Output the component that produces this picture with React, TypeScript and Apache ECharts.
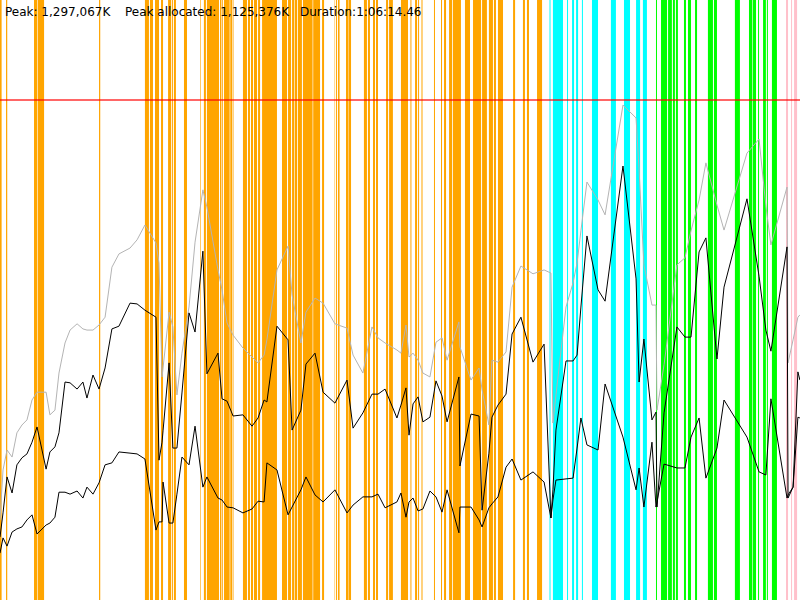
import React, { useEffect, useRef } from "react";
import * as echarts from "echarts";

// Time axis in seconds, memory axis in MB
const DURATION_S = 3974.46;
const Y_MAX_MB = 1536;
const MAX_HEAP_MB = 1280;

const HEADER_TEXTS = ["Peak: 1,297,067K", "Peak allocated: 1,125,376K", "Duration:1:06:14.46"];

const TIME_S = [
  0, 15, 35, 60, 84, 109, 134, 159, 184, 229,
  248, 273, 293, 323, 348, 383, 412, 432, 462, 492,
  522, 556, 591, 646, 681, 720, 775, 790, 805, 810,
  840, 859, 879, 904, 939, 969, 1008, 1028, 1083, 1103,
  1128, 1158, 1207, 1252, 1282, 1312, 1326, 1376, 1431, 1451,
  1495, 1520, 1565, 1605, 1664, 1724, 1754, 1803, 1848, 1878,
  1913, 1972, 1992, 2017, 2032, 2052, 2077, 2101, 2136, 2166,
  2196, 2221, 2280, 2285, 2340, 2380, 2395, 2429, 2444, 2474,
  2514, 2544, 2588, 2648, 2703, 2737, 2747, 2762, 2812, 2847,
  2867, 2886, 2916, 2971, 3006, 3095, 3160, 3175, 3199, 3239,
  3259, 3264, 3299, 3363, 3403, 3433, 3473, 3507, 3562, 3597,
  3711, 3771, 3805, 3830, 3910, 3915, 3940, 3964, 3974,
];

const HEAP_SIZE_MB = [
  205, 333, 384, 366, 428, 448, 461, 512, 532, 532,
  474, 486, 581, 658, 691, 707, 694, 691, 691, 704,
  724, 852, 886, 901, 922, 960, 914, 863, 571, 594,
  737, 699, 525, 632, 750, 916, 1050, 1006, 845, 794,
  709, 678, 645, 622, 607, 627, 666, 845, 906, 781,
  658, 737, 773, 760, 707, 696, 627, 581, 699, 671,
  658, 640, 632, 704, 622, 632, 614, 581, 571, 660,
  671, 614, 712, 648, 563, 594, 538, 448, 614, 609,
  635, 801, 855, 835, 845, 837, 453, 525, 750, 812,
  863, 945, 1070, 1024, 986, 1267, 1234, 1101, 858, 755,
  755, 486, 602, 858, 876, 945, 1024, 1119, 1011, 947,
  1144, 1180, 1009, 909, 1057, 607, 666, 724, 730,
];

const USED_BEFORE_GC_MB = [
  161, 223, 315, 274, 346, 364, 374, 404, 443, 335,
  379, 392, 428, 558, 556, 540, 558, 517, 576, 540,
  594, 694, 701, 760, 758, 742, 724, 358, 404, 433,
  607, 389, 389, 530, 735, 686, 893, 579, 632, 515,
  509, 471, 474, 445, 466, 512, 507, 701, 666, 435,
  486, 604, 632, 532, 504, 563, 440, 479, 527, 527,
  540, 466, 499, 543, 422, 502, 520, 456, 468, 561,
  522, 456, 571, 343, 476, 471, 230, 376, 468, 499,
  527, 681, 724, 609, 655, 210, 282, 435, 612, 612,
  627, 750, 932, 794, 765, 1111, 822, 558, 668, 461,
  481, 238, 479, 699, 673, 673, 891, 927, 617, 801,
  1027, 829, 691, 637, 904, 261, 289, 584, 563,
];

const USED_AFTER_GC_MB = [
  120, 159, 138, 174, 182, 187, 205, 218, 169, 192,
  197, 212, 276, 276, 271, 279, 261, 289, 271, 300,
  346, 351, 379, 376, 374, 361, 179, 200, 200, 302,
  197, 197, 271, 366, 346, 445, 289, 315, 261, 256,
  238, 236, 223, 233, 253, 251, 351, 333, 218, 238,
  282, 315, 269, 251, 282, 223, 243, 264, 264, 271,
  236, 251, 274, 212, 251, 261, 228, 233, 279, 264,
  225, 282, 172, 238, 238, 205, 187, 236, 246, 264,
  340, 361, 307, 328, 302, 210, 256, 307, 310, 312,
  389, 466, 397, 384, 553, 417, 282, 338, 238, 404,
  238, 251, 348, 338, 338, 417, 466, 312, 389, 512,
  417, 328, 320, 515, 261, 269, 289, 468, 466,
];

// GC event intervals [start s, end s]
const ORANGE_EVENTS = [
  [0, 8], [30, 36], [169, 184], [187, 219], [492, 498], [720, 740], [745, 760],
  [770, 790], [800, 810], [835, 850], [854, 859], [864, 874], [914, 929], [994, 997],
  [1013, 1023], [1028, 1088], [1093, 1100], [1104, 1108], [1113, 1141], [1144, 1153],
  [1156, 1160], [1207, 1227], [1232, 1242], [1247, 1257], [1262, 1277], [1282, 1292],
  [1302, 1376], [1401, 1426], [1431, 1446], [1451, 1461], [1464, 1476], [1480, 1500],
  [1505, 1553], [1556, 1590], [1600, 1610], [1662, 1664], [1669, 1674], [1679, 1687],
  [1719, 1729], [1731, 1744], [1808, 1823], [1828, 1838], [1853, 1863], [1868, 1878],
  [1918, 1928], [1933, 1952], [1992, 2027], [2039, 2044], [2062, 2072], [2077, 2082],
  [2094, 2099], [2156, 2161], [2191, 2196], [2206, 2216], [2231, 2246], [2250, 2290],
  [2310, 2335], [2350, 2390], [2395, 2419], [2429, 2449], [2454, 2464], [2474, 2499],
  [2549, 2559], [2598, 2608], [2618, 2628], [2668, 2693],
];
const CYAN_EVENTS = [
  [2730, 2735], [2747, 2797], [2817, 2822], [2842, 2852], [2862, 2872], [2891, 2896],
  [2941, 2971], [3035, 3060], [3100, 3130], [3160, 3180], [3194, 3214],
];
const GREEN_EVENTS = [
  [3259, 3264], [3284, 3314], [3319, 3338], [3343, 3353], [3358, 3368], [3398, 3408],
  [3418, 3433], [3453, 3463], [3517, 3542], [3547, 3562], [3651, 3676], [3721, 3736],
  [3739, 3756], [3766, 3771], [3791, 3805], [3810, 3815], [3835, 3860],
];
const PINK_EVENTS = [[3905, 3915], [3930, 3935], [3945, 3960]];

function bandSeries(name: string, data: number[][], color: string) {
  return {
    type: "custom",
    name,
    silent: true,
    z: 1,
    clip: true,
    data,
    encode: { x: [0, 1] },
    renderItem: (params: any, api: any) => {
      const a = api.coord([api.value(0), 0]);
      const b = api.coord([api.value(1), 0]);
      const cs = params.coordSys;
      return {
        type: "rect",
        shape: { x: a[0], y: cs.y, width: Math.max(b[0] - a[0], 0.3), height: cs.height },
        style: { fill: color },
      };
    },
  };
}

function lineSeries(name: string, values: number[], color: string, z: number) {
  return {
    type: "line",
    name,
    z,
    showSymbol: false,
    symbol: "none",
    silent: true,
    data: TIME_S.map((t, i) => [t, values[i]]),
    lineStyle: { color, width: 1 },
  };
}

export default function App() {
  const ref = useRef<HTMLDivElement>(null);
  useEffect(() => {
    const chart = echarts.init(ref.current!, null, { renderer: "svg" });
    const xs = [5, 125, 300];
    chart.setOption({
      animation: false,
      backgroundColor: "#ffffff",
      grid: { left: 0, right: 0, top: 0, bottom: 0 },
      xAxis: { type: "value", min: 0, max: DURATION_S, show: false },
      yAxis: { type: "value", min: 0, max: Y_MAX_MB, show: false },
      series: [
        bandSeries("orange", ORANGE_EVENTS, "#ffa500"),
        bandSeries("cyan", CYAN_EVENTS, "#00ffff"),
        bandSeries("green", GREEN_EVENTS, "#00ff00"),
        bandSeries("pink", PINK_EVENTS, "#ffc0cb"),
        lineSeries("heap", HEAP_SIZE_MB, "#b4b4b4", 3),
        lineSeries("used", USED_BEFORE_GC_MB, "#000000", 4),
        {
          ...lineSeries("used after gc", USED_AFTER_GC_MB, "#000000", 4),
          markLine: {
            silent: true,
            symbol: "none",
            label: { show: false },
            lineStyle: { color: "rgba(255,0,0,0.6)", width: 2, type: "solid" },
            data: [{ yAxis: MAX_HEAP_MB }],
          },
        },
      ],
      graphic: HEADER_TEXTS.map((t, i) => ({
        type: "text",
        z: 100,
        left: xs[i],
        top: 6,
        style: { text: t, fill: "#000", font: "12px 'DejaVu Sans'" },
      })),
    });
    return () => chart.dispose();
  }, []);
  return <div ref={ref} style={{ position: "absolute", left: 0, top: 0, width: 800, height: 600 }} />;
}
